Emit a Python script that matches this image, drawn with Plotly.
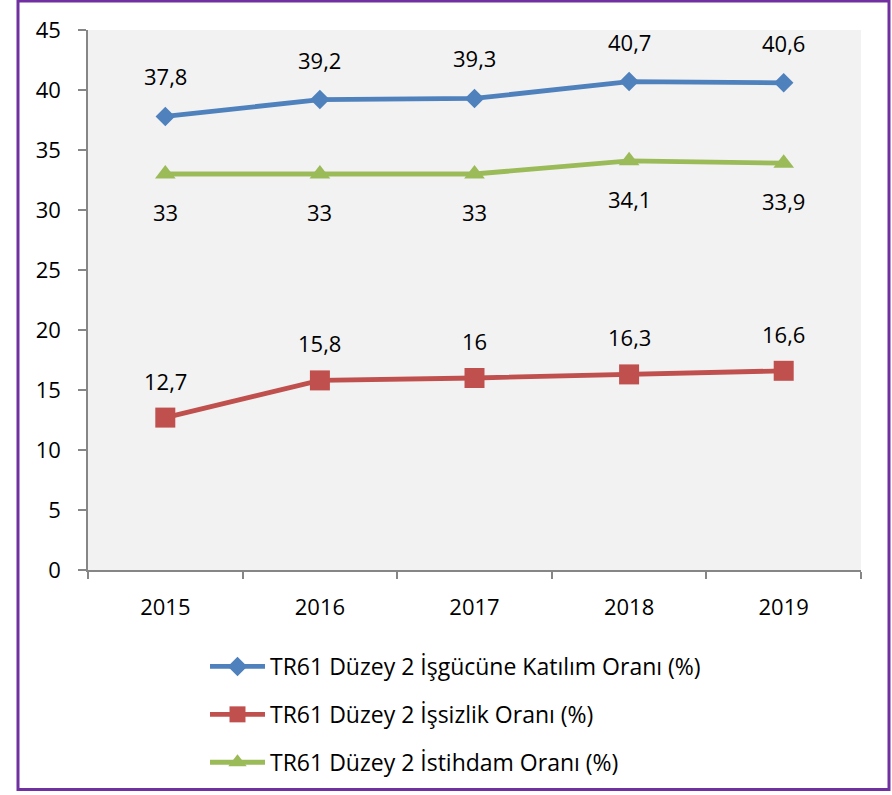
import plotly.graph_objects as go

# Data
years = ["2015", "2016", "2017", "2018", "2019"]
katilim = [37.8, 39.2, 39.3, 40.7, 40.6]
issizlik = [12.7, 15.8, 16.0, 16.3, 16.6]
istihdam = [33.0, 33.0, 33.0, 34.1, 33.9]

names = [
    "TR61 Düzey 2 İşgücüne Katılım Oranı (%)",
    "TR61 Düzey 2 İşsizlik Oranı (%)",
    "TR61 Düzey 2 İstihdam Oranı (%)",
]

FONT = "Open Sans"
W, H = 892, 795
ML, MR, MT, MB = 88, 31, 30, 224


def fmt(v):
    # Turkish decimal comma, drop trailing .0
    s = f"{v:g}"
    return s.replace(".", ",")


series = [
    (katilim, names[0], "#4f81bd", "diamond", 15, 40),
    (issizlik, names[1], "#c0504d", "square", 20, 37),
    (istihdam, names[2], "#9bbb59", "triangle-up", 18, -38),
]

fig = go.Figure()
annotations = []
for i, (vals, name, color, symbol, msize, shift) in enumerate(series):
    fig.add_trace(go.Scatter(
        x=years, y=vals, name=name, mode="lines+markers",
        line=dict(color=color, width=4.8),
        marker=dict(symbol=symbol, size=msize, color=color),
        legendgroup=f"g{i}",
    ))
    # data labels (x as category index so "2015" isn't read as a number)
    for k, v in enumerate(vals):
        annotations.append(dict(
            x=k, y=v, text=fmt(v), showarrow=False, yshift=shift,
            font=dict(family=FONT, size=22, color="black"),
        ))

# purple frame around the whole chart (pixel positions -> paper coords)
pw, ph = W - ML - MR, H - MT - MB
def px_x(p):
    return (p - ML) / pw
def px_y(p):
    return (H - MB - p) / ph

fig.update_layout(
    width=W, height=H,
    margin=dict(l=ML, r=MR, t=MT, b=MB),
    paper_bgcolor="white",
    plot_bgcolor="#f2f2f2",
    font=dict(family=FONT, size=22, color="black"),
    separators=", ",
    showlegend=True,
    legend=dict(
        orientation="v", x=px_x(205), y=px_y(645), xanchor="left", yanchor="top",
        font=dict(family=FONT, size=23, color="black"),
        tracegroupgap=15, itemwidth=55, bgcolor="rgba(0,0,0,0)",
    ),
    annotations=annotations,
    shapes=[dict(
        type="rect", xref="paper", yref="paper",
        x0=px_x(18), x1=px_x(889), y0=px_y(791), y1=px_y(1),
        line=dict(color="#7030a0", width=3), fillcolor="rgba(0,0,0,0)",
        layer="above",
    )],
)

fig.update_xaxes(
    type="category", range=[-0.5, 4.5], showgrid=False, zeroline=False,
    showline=True, linecolor="#868686", linewidth=1.5,
    ticks="outside", tickson="boundaries", ticklen=7, tickcolor="#868686",
    tickwidth=1.5, ticklabelstandoff=17,
    tickfont=dict(family=FONT, size=22, color="black"),
)
fig.update_yaxes(
    range=[0, 45], dtick=5, showgrid=False, zeroline=False,
    showline=True, linecolor="#868686", linewidth=1.5,
    ticks="outside", ticklen=8, tickcolor="#868686", tickwidth=1.5,
    ticklabelstandoff=13,
    tickfont=dict(family=FONT, size=22, color="black"),
)

fig.write_html("out.html", config={"displayModeBar": False},
               post_script="document.body.style.margin='0px';")
